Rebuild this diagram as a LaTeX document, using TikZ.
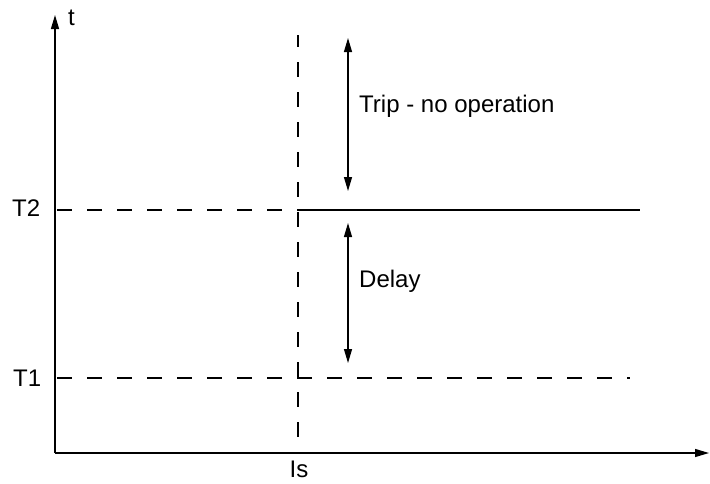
\documentclass[tikz,border=0pt]{standalone}
\usepackage{fontspec}
\setmainfont{Liberation Sans}
\usetikzlibrary{arrows.meta}
\begin{document}
\begin{tikzpicture}[x=1pt,y=-1pt,
  axis/.style={line width=1.3pt,-{Triangle[length=14pt,width=8pt]}},
  dline/.style={line width=1.2pt,dash pattern=on 15pt off 15pt},
  sline/.style={line width=1.3pt},
  darr/.style={line width=1.2pt,{Triangle[length=14pt,width=8pt]}-{Triangle[length=14pt,width=8pt]}},
  lbl/.style={font=\fontsize{24}{28}\selectfont,inner sep=0pt}]
\useasboundingbox (0,0) rectangle (710,483);
\coordinate (O) at (55,453);
\coordinate (ytop) at (55,15);
\coordinate (xend) at (709,453);
\draw[axis] (O) -- (ytop);
\draw[axis] (O) -- (xend);
\node[lbl,anchor=base west] (t) at (68,25) {t};
% levels
\coordinate (t2s) at (57,210);
\coordinate (t2m) at (298,210);
\coordinate (t2e) at (640,210);
\coordinate (t1s) at (57,378);
\coordinate (t1e) at (630,378);
\draw[dline] (t2s) -- (t2m);
\draw[sline] (t2m) -- (t2e);
\draw[dline] (t1s) -- (t1e);
\node[lbl,anchor=base west] (T2) at (12,216) {T2};
\node[lbl,anchor=base west] (T1) at (13,386) {T1};
% Is
\coordinate (ist) at (298,35);
\coordinate (isb) at (298,453);
\draw[dline,dash phase=3pt] (ist) -- (isb);
\node[lbl,anchor=base] (Is) at (299,477) {Is};
% double arrows
\coordinate (a1t) at (348,38);
\coordinate (a1b) at (348,191);
\coordinate (a2t) at (348,223);
\coordinate (a2b) at (348,363);
\draw[darr] (a1t) -- (a1b);
\draw[darr] (a2t) -- (a2b);
\node[lbl,anchor=base west] (trip) at (359,112) {Trip - no operation};
\node[lbl,anchor=base west] (delay) at (359,287) {Delay};
\end{tikzpicture}
\end{document}
